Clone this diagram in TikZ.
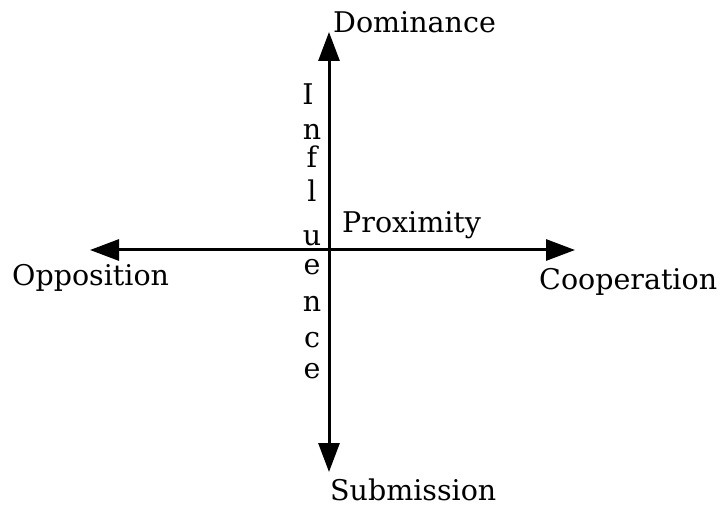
\documentclass[tikz,border=0pt]{standalone}
\usepackage{fontspec}
\setmainfont{DejaVu Serif}
\usetikzlibrary{arrows.meta}
\begin{document}
\begin{tikzpicture}[x=1pt,y=-1pt,
  axis/.style={line width=3pt,{Triangle[length=29pt,width=21pt]}-{Triangle[length=29pt,width=21pt]}},
  lbl/.style={inner sep=0pt,anchor=base west,font=\fontsize{28.5}{34}\selectfont},
  letter/.style={inner sep=0pt,anchor=base,font=\fontsize{28.5}{34}\selectfont}]
\useasboundingbox (0,0) rectangle (721,508);
\coordinate (top) at (329,32);
\coordinate (bot) at (329,472);
\coordinate (lft) at (90,250);
\coordinate (rgt) at (575,250);
\draw[axis] (bot) -- (top);
\draw[axis] (lft) -- (rgt);
\node[lbl] (dom) at (333,33) {Dominance};
\node[lbl] (opp) at (12,285) {Opposition};
\node[lbl] (coo) at (539,290) {Cooperation};
\node[lbl] (sub) at (330,500) {Submission};
\node[lbl] (pro) at (342,233) {Proximity};
\node[letter] (i1) at (308,105) {I};
\node[letter] (i2) at (312,140) {n};
\node[letter] (i3) at (312,168) {f};
\node[letter] (i4) at (312,202) {l};
\node[letter] (i5) at (312,246) {u};
\node[letter] (i6) at (312,274) {e};
\node[letter] (i7) at (312,311) {n};
\node[letter] (i8) at (312,347) {c};
\node[letter] (i9) at (312,378) {e};
\end{tikzpicture}
\end{document}
